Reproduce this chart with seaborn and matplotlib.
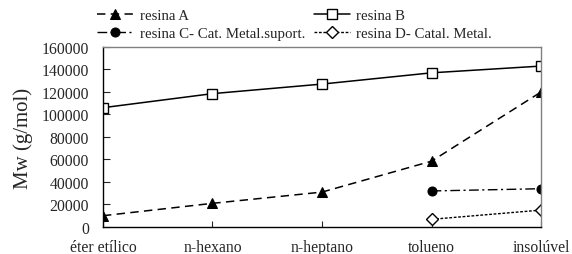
# Mw das resinas por fracao de solvente
import pandas as pd
import seaborn as sns
import matplotlib.pyplot as plt

# ------------------------------------------------------------
# DADOS
# ------------------------------------------------------------
solventes = ["éter etílico", "n-hexano", "n-heptano", "tolueno", "insolúvel"]
resina_a = [10000, 21000, 31000, 58500, 120000]
resina_b = [106000, 118500, 127000, 137000, 143000]
solv_cd = ["tolueno", "insolúvel"]
resina_c = [32000, 34000]
resina_d = [6800, 15000]
y_ticks = [0, 20000, 40000, 60000, 80000, 100000, 120000, 140000, 160000]

sns.set_style("white")
plt.rcParams["font.family"] = ["Liberation Serif", "DejaVu Serif"]

pos = {s: i for i, s in enumerate(solventes)}
df_a = pd.DataFrame({"x": [pos[s] for s in solventes], "Mw": resina_a})
df_b = pd.DataFrame({"x": [pos[s] for s in solventes], "Mw": resina_b})
df_c = pd.DataFrame({"x": [pos[s] for s in solv_cd], "Mw": resina_c})
df_d = pd.DataFrame({"x": [pos[s] for s in solv_cd], "Mw": resina_d})

fig = plt.figure(figsize=(5.72, 2.55), dpi=100)
ax = fig.add_axes([0.180, 0.106, 0.766, 0.706])

sns.lineplot(data=df_a, x="x", y="Mw", ax=ax, color="black", lw=1.1,
             linestyle=(0, (5.5, 3.5)), marker="^", markersize=7,
             markeredgecolor="black", markerfacecolor="black",
             label="resina A")
sns.lineplot(data=df_c, x="x", y="Mw", ax=ax, color="black", lw=1.0,
             linestyle=(0, (7, 2.5, 1.5, 2.5)), marker="o", markersize=6.5,
             markeredgecolor="black", markerfacecolor="black",
             label="resina C- Cat. Metal.suport.")
sns.lineplot(data=df_b, x="x", y="Mw", ax=ax, color="black", lw=1.1,
             linestyle="-", marker="s", markersize=6.5,
             markeredgecolor="black", markerfacecolor="white",
             markeredgewidth=1.0, label="resina B")
sns.lineplot(data=df_d, x="x", y="Mw", ax=ax, color="black", lw=1.0,
             linestyle=(0, (2, 1.2)), marker="D", markersize=6,
             markeredgecolor="black", markerfacecolor="white",
             markeredgewidth=1.0, label="resina D- Catal. Metal.")

ax.set_xlim(0, len(solventes) - 1)
ax.set_ylim(0, 160000)
ax.set_xticks(range(len(solventes)))
ax.set_xticklabels(solventes)
ax.set_yticks(y_ticks)
ax.set_yticklabels([str(v) for v in y_ticks])
ax.set_xlabel("")
ax.set_ylabel("Mw (g/mol)", fontsize=15, labelpad=6)

ax.tick_params(axis="y", direction="in", length=5, width=0.8, pad=10,
               labelsize=11.3, left=True)
ax.tick_params(axis="x", direction="in", length=4, width=0.8, pad=9,
               labelsize=11.3, bottom=True)

for side in ["left", "bottom"]:
    ax.spines[side].set_color("black")
    ax.spines[side].set_linewidth(1.0)
for side in ["top", "right"]:
    ax.spines[side].set_color("#808080")
    ax.spines[side].set_linewidth(1.0)

h, l = ax.get_legend_handles_labels()
ax.legend(h, l, ncol=2, frameon=False, fontsize=10.7, loc="upper left",
          bbox_to_anchor=(0.165, 0.975), bbox_transform=fig.transFigure,
          handlelength=2.4, handletextpad=0.45, columnspacing=0.6,
          labelspacing=0.35, borderpad=0.2, borderaxespad=0)

fig.savefig("out.png", dpi=100)
